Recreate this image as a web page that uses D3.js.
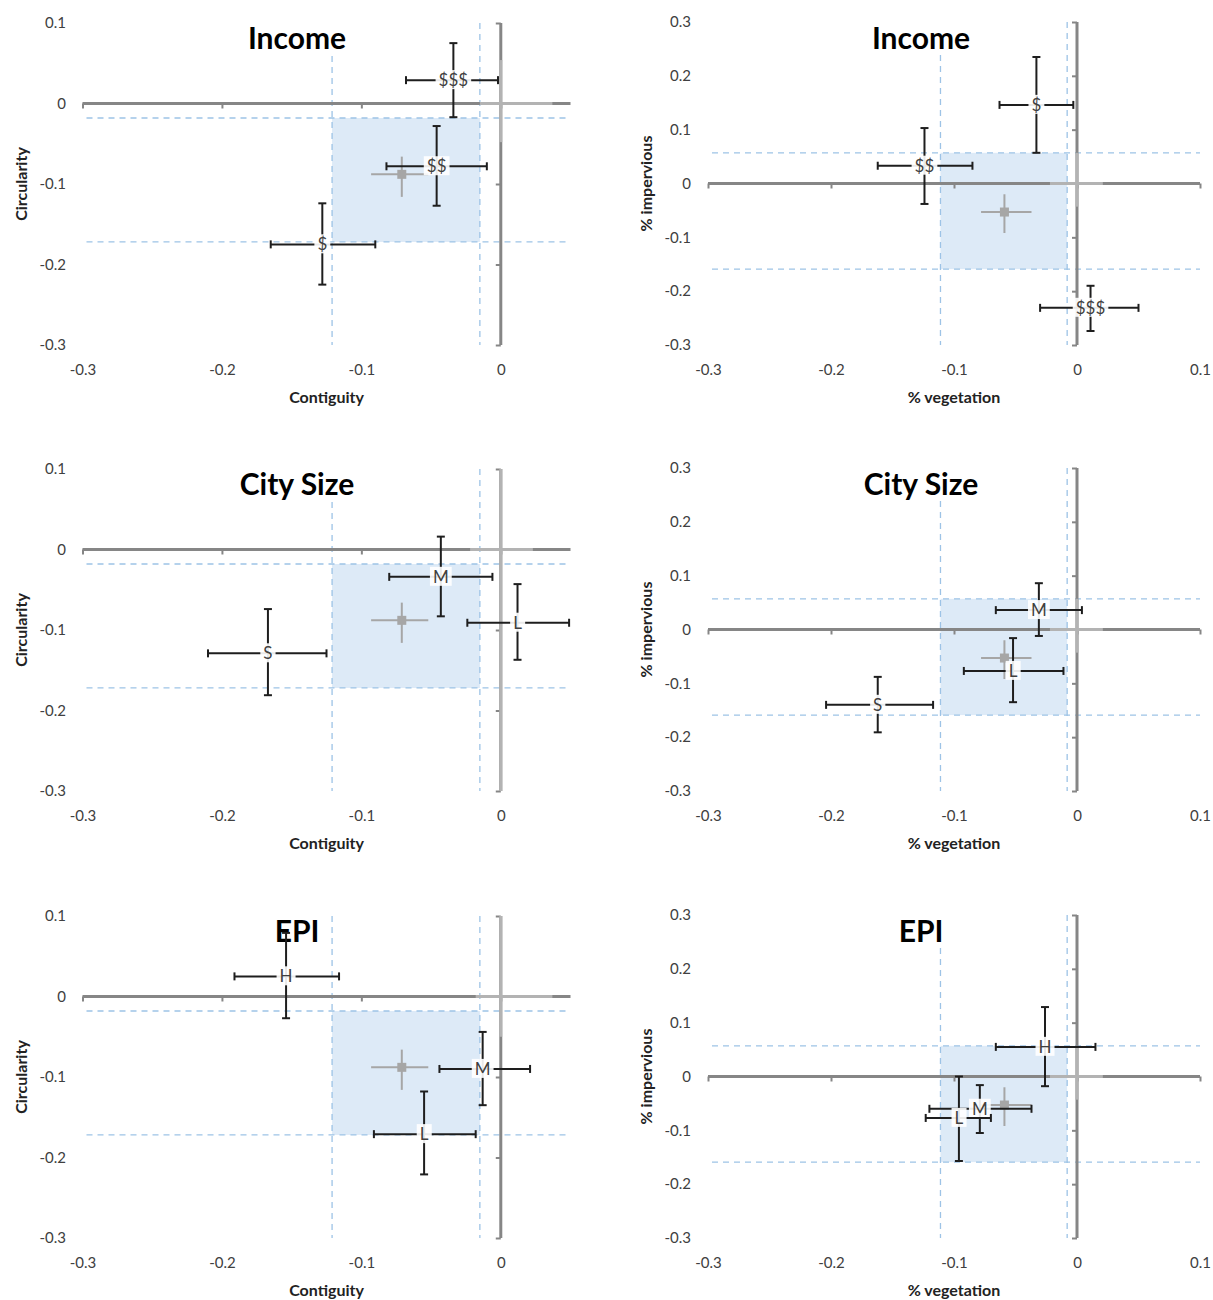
<!DOCTYPE html>
<html>
<head>
<meta charset="utf-8">
<script src="https://cdn.jsdelivr.net/npm/d3@7"></script>
<style>
  html, body { margin: 0; padding: 0; background: #fff; }
  svg { display: block; font-family: Lato, "Open Sans", sans-serif; }
</style>
</head>
<body>
<svg id="chart" width="1213" height="1300"></svg>
<script>
// ---- Group titles and axis titles ----
const groupTitles = ["Income", "City Size", "EPI"];
const xTitles = ["Contiguity", "% vegetation"];
const yTitles = ["Circularity", "% impervious"];

// ---- Tick values ----
const shapeXTicks = [-0.3, -0.2, -0.1, 0];
const shapeYTicks = [0.1, 0, -0.1, -0.2, -0.3];
const coverXTicks = [-0.3, -0.2, -0.1, 0, 0.1];
const coverYTicks = [0.3, 0.2, 0.1, 0, -0.1, -0.2, -0.3];

// ---- Overall mean (grey square) and its interval box, per column ----
const shapeMean = { x: -0.071, xLo: -0.093, xHi: -0.052, y: -0.088, yLo: -0.116, yHi: -0.066 };
const coverMean = { x: -0.059, xLo: -0.078, xHi: -0.037, y: -0.053, yLo: -0.092, yHi: -0.020 };
const shapeBand = { x0: -0.121, x1: -0.015, y0: -0.172, y1: -0.018 };
const coverBand = { x0: -0.111, x1: -0.008, y0: -0.159, y1: 0.057 };

// ---- Reference cross at the origin, per panel ----
const shapeRefs = [
  { xLo: -0.015, xHi: 0.037, yLo: -0.048, yHi: 0.054 },
  { xLo: -0.022, xHi: 0.023, yLo: -0.3, yHi: 0.1 },
  { xLo: -0.018, xHi: 0.037, yLo: -0.05, yHi: 0.1 }
];
const coverRefs = [
  { xLo: -0.022, xHi: 0.021, yLo: -0.043, yHi: 0.057 },
  { xLo: -0.022, xHi: 0.021, yLo: -0.043, yHi: 0.057 },
  { xLo: -0.022, xHi: 0.021, yLo: -0.043, yHi: 0.057 }
];

// ---- Group estimates with error bars ----
const incomeShape = [
  { label: "$$$", x: -0.034, xLo: -0.068, xHi: -0.002, y: 0.029, yLo: -0.017, yHi: 0.075 },
  { label: "$$",  x: -0.046, xLo: -0.082, xHi: -0.010, y: -0.078, yLo: -0.127, yHi: -0.028 },
  { label: "$",   x: -0.128, xLo: -0.165, xHi: -0.090, y: -0.175, yLo: -0.225, yHi: -0.124 }
];
const incomeCover = [
  { label: "$",   x: -0.033, xLo: -0.063, xHi: -0.003, y: 0.146, yLo: 0.057, yHi: 0.235 },
  { label: "$$",  x: -0.124, xLo: -0.162, xHi: -0.085, y: 0.033, yLo: -0.038, yHi: 0.103 },
  { label: "$$$", x: 0.011,  xLo: -0.030, xHi: 0.050,  y: -0.231, yLo: -0.274, yHi: -0.190 }
];
const sizeShape = [
  { label: "M", x: -0.043, xLo: -0.080, xHi: -0.006, y: -0.034, yLo: -0.083, yHi: 0.016 },
  { label: "L", x: 0.012,  xLo: -0.024, xHi: 0.049,  y: -0.091, yLo: -0.137, yHi: -0.043 },
  { label: "S", x: -0.167, xLo: -0.210, xHi: -0.125, y: -0.129, yLo: -0.181, yHi: -0.074 }
];
const sizeCover = [
  { label: "M", x: -0.031, xLo: -0.066, xHi: 0.004,  y: 0.036,  yLo: -0.012, yHi: 0.086 },
  { label: "L", x: -0.052, xLo: -0.092, xHi: -0.011, y: -0.077, yLo: -0.135, yHi: -0.016 },
  { label: "S", x: -0.162, xLo: -0.204, xHi: -0.117, y: -0.140, yLo: -0.191, yHi: -0.088 }
];
const epiShape = [
  { label: "H", x: -0.154, xLo: -0.191, xHi: -0.116, y: 0.025,  yLo: -0.027, yHi: 0.079 },
  { label: "M", x: -0.013, xLo: -0.044, xHi: 0.021,  y: -0.090, yLo: -0.135, yHi: -0.044 },
  { label: "L", x: -0.055, xLo: -0.091, xHi: -0.018, y: -0.171, yLo: -0.221, yHi: -0.118 }
];
const epiCover = [
  { label: "H", x: -0.026, xLo: -0.066, xHi: 0.015,  y: 0.055,  yLo: -0.018, yHi: 0.129 },
  { label: "M", x: -0.079, xLo: -0.120, xHi: -0.037, y: -0.060, yLo: -0.105, yHi: -0.016 },
  { label: "L", x: -0.096, xLo: -0.123, xHi: -0.070, y: -0.077, yLo: -0.157, yHi: 0.000 }
];

const shapeGroups = [incomeShape, sizeShape, epiShape];
const coverGroups = [incomeCover, sizeCover, epiCover];

// ---- Layout ----
const rowOffsets = [0, 446, 893];
const columns = [
  { xDomain: [-0.3, 0.05], yDomain: [-0.3, 0.1], xRange: [82.5, 570.5], yRange: [345, 23],
    xTicks: shapeXTicks, yTicks: shapeYTicks, tickLabelX: 66, yTitleX: 22, titleX: 297,
    xTitle: xTitles[0], yTitle: yTitles[0], mean: shapeMean, band: shapeBand,
    groups: shapeGroups, refs: shapeRefs },
  { xDomain: [-0.3, 0.1], yDomain: [-0.3, 0.3], xRange: [708, 1200], yRange: [345, 22],
    xTicks: coverXTicks, yTicks: coverYTicks, tickLabelX: 691, yTitleX: 647, titleX: 921,
    xTitle: xTitles[1], yTitle: yTitles[1], mean: coverMean, band: coverBand,
    groups: coverGroups, refs: coverRefs }
];

const AXIS = "#868686", REF = "#b3b3b3", MEAN = "#a6a6a6", BAR = "#1e1e1e";
const FILL = "#ddeaf7", DASH = "#9dc3e6", TEXT = "#404040";
// plain hyphen for negatives, as in the printed tick labels
const fmt = d => d === 0 ? "0" : d3.format(".1f")(d).replace("\u2212", "-");

const svg = d3.select("#chart");

rowOffsets.forEach((off, r) => {
  columns.forEach(col => {
    const x = d3.scaleLinear().domain(col.xDomain).range(col.xRange);
    const y = d3.scaleLinear().domain(col.yDomain).range(col.yRange.map(v => v + off));
    const g = svg.append("g");
    const [xMin, xMax] = col.xDomain, [yMin, yMax] = col.yDomain;

    // interval box and its dashed guides
    const b = col.band;
    g.append("rect")
      .attr("x", x(b.x0)).attr("y", y(b.y1))
      .attr("width", x(b.x1) - x(b.x0)).attr("height", y(b.y0) - y(b.y1))
      .attr("fill", FILL);
    const guides = g.append("g").attr("stroke", DASH).attr("stroke-width", 1.3)
      .attr("stroke-dasharray", "6,5").attr("fill", "none");
    [b.y0, b.y1].forEach(v => guides.append("line")
      .attr("x1", x(xMin) + 4).attr("x2", x(xMax)).attr("y1", y(v)).attr("y2", y(v)));
    [b.x0, b.x1].forEach(v => guides.append("line")
      .attr("x1", x(v)).attr("x2", x(v)).attr("y1", y(yMax)).attr("y2", y(yMin)));

    // chart title on an opaque backing
    const title = g.append("text")
      .attr("x", col.titleX).attr("y", off + 49)
      .attr("text-anchor", "middle")
      .attr("font-size", 30).attr("font-weight", 700).attr("fill", "#000")
      .text(groupTitles[r]);
    const tb = title.node().getBBox();
    g.insert("rect", () => title.node())
      .attr("x", tb.x - 2).attr("y", tb.y + 2).attr("width", tb.width + 4).attr("height", tb.height - 2)
      .attr("fill", "#fff");

    // axes crossing at the origin
    const xAxis = d3.axisBottom(x).tickValues(col.xTicks).tickSize(5).tickSizeOuter(0).tickFormat("");
    const gx = g.append("g").attr("transform", `translate(0,${y(0)})`).call(xAxis);
    const yAxis = d3.axisLeft(y).tickValues(col.yTicks.filter(v => v !== 0)).tickSize(5).tickSizeOuter(0).tickFormat("");
    const gy = g.append("g").attr("transform", `translate(${x(0)},0)`).call(yAxis);
    [gx, gy].forEach(a => {
      a.select(".domain").attr("stroke", AXIS).attr("stroke-width", 3);
      a.selectAll(".tick line").attr("stroke", AXIS).attr("stroke-width", 2);
    });
    gx.select(".domain").attr("d", `M${x(xMin)},0H${x(xMax)}`);
    gy.select(".domain").attr("d", `M0,${y(yMax)}V${y(yMin)}`);

    // tick labels along the bottom and the left edge
    const lx = d3.axisBottom(x).tickValues(col.xTicks).tickSize(0).tickPadding(0).tickFormat(fmt);
    const glx = g.append("g").attr("transform", `translate(0,${off + 375})`).call(lx);
    const ly = d3.axisLeft(y).tickValues(col.yTicks).tickSize(0).tickPadding(0).tickFormat(fmt);
    const gly = g.append("g").attr("transform", `translate(${col.tickLabelX},0)`).call(ly);
    [glx, gly].forEach(a => {
      a.select(".domain").remove();
      a.selectAll("text").attr("font-size", 15).attr("fill", TEXT).attr("font-family", "Lato, sans-serif");
    });
    glx.selectAll("text").attr("dy", "0");

    // axis titles
    g.append("text")
      .attr("x", (col.xRange[0] + col.xRange[1]) / 2).attr("y", off + 403)
      .attr("text-anchor", "middle").attr("font-size", 16).attr("font-weight", 700).attr("fill", "#222")
      .text(col.xTitle);
    const ymid = (col.yRange[0] + col.yRange[1]) / 2 + off;
    g.append("text")
      .attr("transform", `translate(${col.yTitleX + 5},${ymid}) rotate(-90)`)
      .attr("text-anchor", "middle").attr("font-size", 16).attr("font-weight", 700).attr("fill", "#222")
      .text(col.yTitle);

    // reference cross at the origin
    const rf = col.refs[r];
    g.append("line").attr("stroke", REF).attr("stroke-width", 3)
      .attr("x1", x(rf.xLo)).attr("x2", x(rf.xHi)).attr("y1", y(0)).attr("y2", y(0));
    g.append("line").attr("stroke", REF).attr("stroke-width", 3)
      .attr("x1", x(0)).attr("x2", x(0)).attr("y1", y(rf.yHi)).attr("y2", y(rf.yLo));

    // overall mean
    const m = col.mean;
    g.append("line").attr("stroke", MEAN).attr("stroke-width", 2)
      .attr("x1", x(m.xLo)).attr("x2", x(m.xHi)).attr("y1", y(m.y)).attr("y2", y(m.y));
    g.append("line").attr("stroke", MEAN).attr("stroke-width", 2)
      .attr("x1", x(m.x)).attr("x2", x(m.x)).attr("y1", y(m.yHi)).attr("y2", y(m.yLo));
    g.append("rect").attr("fill", MEAN)
      .attr("x", x(m.x) - 4.5).attr("y", y(m.y) - 4.5).attr("width", 9).attr("height", 9);

    // group estimates with capped error bars
    const pts = g.selectAll("g.pt").data(col.groups[r]).join("g").attr("class", "pt");
    const cap = 4;
    pts.each(function (d) {
      const p = d3.select(this);
      const cx = x(d.x), cy = y(d.y);
      const bars = p.append("g").attr("stroke", BAR).attr("stroke-width", 2).attr("fill", "none");
      bars.append("line").attr("x1", x(d.xLo)).attr("x2", x(d.xHi)).attr("y1", cy).attr("y2", cy);
      bars.append("line").attr("x1", cx).attr("x2", cx).attr("y1", y(d.yHi)).attr("y2", y(d.yLo));
      [x(d.xLo), x(d.xHi)].forEach(v => bars.append("line")
        .attr("x1", v).attr("x2", v).attr("y1", cy - cap).attr("y2", cy + cap));
      [y(d.yLo), y(d.yHi)].forEach(v => bars.append("line")
        .attr("x1", cx - cap).attr("x2", cx + cap).attr("y1", v).attr("y2", v));
      const t = p.append("text")
        .attr("x", cx).attr("y", cy).attr("dy", "0.35em")
        .attr("text-anchor", "middle").attr("font-size", 17).attr("fill", TEXT)
        .text(d.label);
      const bb = t.node().getBBox();
      p.insert("rect", "text")
        .attr("x", bb.x - 3).attr("y", bb.y + 1).attr("width", bb.width + 6).attr("height", bb.height - 2)
        .attr("fill", "#fff").attr("fill-opacity", 0.9);
    });
  });
});
</script>
</body>
</html>
